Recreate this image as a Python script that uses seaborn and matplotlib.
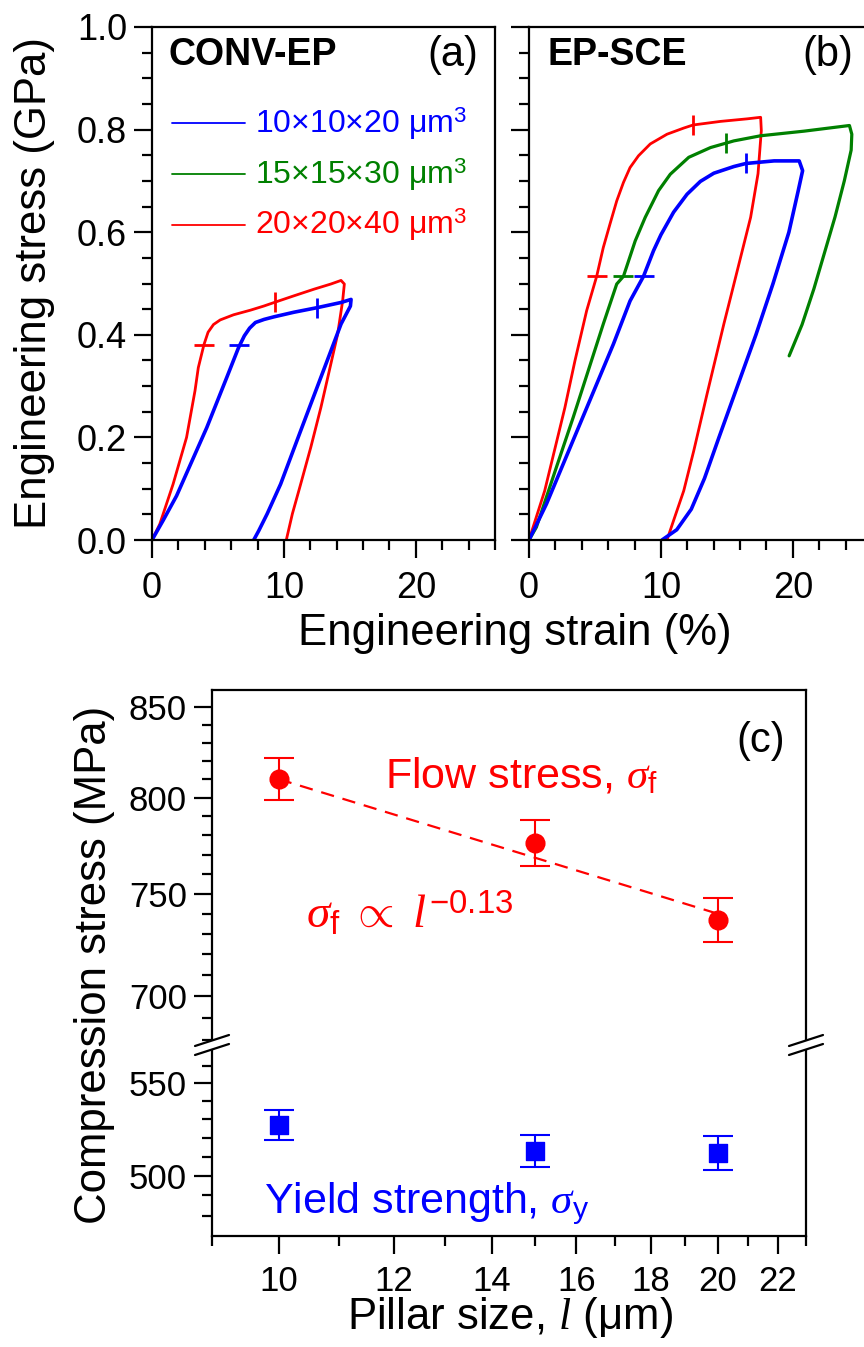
import numpy as np
import pandas as pd
import matplotlib
matplotlib.use("Agg")
import matplotlib.pyplot as plt
import seaborn as sns
from matplotlib.ticker import MultipleLocator, FixedLocator, NullFormatter, FixedFormatter, FormatStrFormatter
from matplotlib.lines import Line2D
from matplotlib.patches import Polygon

# ---------------- data ----------------
# Panel (a) CONV-EP
a_blue_strain = [0.00, 0.84, 1.86, 4.15, 5.67, 6.56, 7.00, 7.40, 7.84, 8.50, 9.24, 10.76, 12.54, 14.33, 15.09,
                 15.04, 14.33, 12.80, 11.27, 9.75, 8.73, 8.09, 7.71]
a_blue_stress = [0.000, 0.038, 0.086, 0.219, 0.317, 0.375, 0.398, 0.413, 0.424, 0.430, 0.435, 0.444, 0.453,
                 0.463, 0.469, 0.456, 0.421, 0.317, 0.213, 0.109, 0.051, 0.018, 0.000]
a_red_strain = [0.00, 0.59, 1.60, 2.62, 3.26, 3.51, 3.94, 4.25, 4.66, 5.17, 6.18, 7.46, 8.47, 9.49, 10.76,
                12.29, 13.56, 14.33, 14.58, 14.45, 14.07, 13.44, 12.80, 12.04, 11.27, 10.64, 10.18]
a_red_stress = [0.000, 0.031, 0.109, 0.200, 0.291, 0.336, 0.381, 0.405, 0.420, 0.429, 0.439, 0.448, 0.456,
                0.465, 0.476, 0.489, 0.499, 0.506, 0.499, 0.466, 0.401, 0.330, 0.258, 0.181, 0.109, 0.051,
                0.000]
a_low_strain = [3.97, 6.56]
a_low_stress = [0.381, 0.381]
a_low_colors = ["#ff0000", "#0000ff"]
a_up_strain = [9.36, 12.54]
a_up_stress = [0.463, 0.453]
a_up_colors = ["#ff0000", "#0000ff"]

# Panel (b) EP-SCE
b_red_strain = [0.00, 1.19, 2.72, 3.48, 4.37, 5.13, 5.63, 6.14, 6.65, 7.16, 7.66, 8.30, 9.19, 10.46, 11.73,
                12.44, 14.52, 16.55, 17.56, 17.61, 17.36, 16.80, 16.04, 15.28, 14.77, 13.50, 12.49, 11.73,
                10.96, 10.46]
b_red_stress = [0.000, 0.096, 0.258, 0.349, 0.447, 0.514, 0.570, 0.616, 0.661, 0.697, 0.726, 0.749, 0.772,
                0.791, 0.803, 0.809, 0.816, 0.821, 0.824, 0.798, 0.714, 0.629, 0.551, 0.473, 0.421, 0.285,
                0.174, 0.096, 0.038, 0.000]
b_green_strain = [0.00, 0.56, 2.08, 3.35, 4.49, 5.63, 6.65, 7.16, 8.05, 8.81, 9.82, 10.71, 12.11, 13.76,
                  15.53, 17.56, 20.86, 24.29, 24.47, 24.42, 23.90, 23.20, 22.40, 21.60, 20.70, 19.72]
b_green_stress = [0.000, 0.025, 0.142, 0.239, 0.330, 0.421, 0.499, 0.514, 0.583, 0.629, 0.681, 0.713, 0.746,
                  0.765, 0.778, 0.788, 0.797, 0.808, 0.791, 0.760, 0.700, 0.630, 0.560, 0.490, 0.420, 0.359]
b_blue_strain = [0.00, 1.32, 2.59, 3.86, 5.13, 6.40, 7.66, 8.68, 9.44, 10.00, 10.96, 11.98, 12.99, 14.01,
                 15.53, 16.45, 18.58, 20.48, 20.74, 20.40, 19.70, 18.50, 17.20, 15.80, 14.40, 13.30, 12.30,
                 11.20, 10.08]
b_blue_stress = [0.000, 0.070, 0.148, 0.226, 0.304, 0.382, 0.466, 0.514, 0.564, 0.595, 0.639, 0.674, 0.699,
                 0.715, 0.728, 0.734, 0.739, 0.739, 0.720, 0.680, 0.600, 0.500, 0.400, 0.300, 0.200, 0.120,
                 0.060, 0.020, 0.000]
b_low_strain = [5.13, 7.16, 8.73]
b_low_stress = [0.514, 0.514, 0.514]
b_low_colors = ["#ff0000", "#008000", "#0000ff"]
b_up_strain = [12.44, 14.90, 16.45]
b_up_stress = [0.809, 0.774, 0.734]
b_up_colors = ["#ff0000", "#008000", "#0000ff"]

legend_labels = ["10\u00d710\u00d720 \u03bcm$^3$", "15\u00d715\u00d730 \u03bcm$^3$", "20\u00d720\u00d740 \u03bcm$^3$"]
legend_colors = ["#0000ff", "#008000", "#ff0000"]

# Panel (c)
pillar_size = [10, 15, 20]
flow_stress = [810, 776, 737]
flow_err = [11.5, 12, 11]
yield_strength = [527, 513, 512]
yield_err = [8, 8.5, 9]
fit_x = [10, 20]
fit_y = [810, 740]

xticks_c = [10, 12, 14, 16, 18, 20, 22]
xminor_c = [9, 11, 13, 15, 17, 19, 21, 23]
yticks_up = [700, 750, 800, 850]
yminor_up = [680, 690, 710, 720, 730, 740, 760, 770, 780, 790, 810, 820, 830, 840]
yticks_lo = [500, 550]
yminor_lo = [480, 490, 510, 520, 530, 540, 560, 570]

# ---------------- style ----------------
sns.set_theme(style="ticks")
plt.rcParams["font.family"] = ["Liberation Sans", "DejaVu Sans"]
plt.rcParams["mathtext.fontset"] = "custom"
plt.rcParams["mathtext.rm"] = "Liberation Sans"
plt.rcParams["mathtext.it"] = "Liberation Serif:italic"
plt.rcParams["mathtext.bf"] = "Liberation Sans:bold"
plt.rcParams["axes.linewidth"] = 1.6
for k in ("text.color", "axes.labelcolor", "xtick.color", "ytick.color", "axes.edgecolor"):
    plt.rcParams[k] = "black"

W, H = 864, 1347
fig = plt.figure(figsize=(W / 100, H / 100), dpi=100)


def rect(l, t, r, b):
    return [l / W, 1 - b / H, (r - l) / W, (b - t) / H]


LAB = 31.5

axA = fig.add_axes(rect(152, 27, 495, 540))
axB = fig.add_axes(rect(529, 27, 872, 540))
axCu = fig.add_axes(rect(212, 690, 806, 1045))
axCl = fig.add_axes(rect(212, 1045, 806, 1236))

for ax, ls in ((axA, 26), (axB, 26), (axCu, 25), (axCl, 25)):
    ax.tick_params(which="major", length=13, width=1.6, direction="out", labelsize=ls, pad=5,
                   color="black", labelcolor="black")
    ax.tick_params(which="minor", length=7, width=1.6, direction="out", color="black")
    for s in ax.spines.values():
        s.set_color("black")
        s.set_linewidth(1.6)

# ---- panel (a) and (b)
def curve(ax, x, y, color, lw):
    df = pd.DataFrame({"strain": x, "stress": y})
    sns.lineplot(data=df, x="strain", y="stress", sort=False, estimator=None, color=color, lw=lw, ax=ax)


curve(axA, a_red_strain, a_red_stress, "#ff0000", 2.0)
curve(axA, a_blue_strain, a_blue_stress, "#0000ff", 2.6)
curve(axB, b_red_strain, b_red_stress, "#ff0000", 2.0)
curve(axB, b_green_strain, b_green_stress, "#008000", 2.3)
curve(axB, b_blue_strain, b_blue_stress, "#0000ff", 2.6)

for ax, lx, ly, lc, ux, uy, uc in ((axA, a_low_strain, a_low_stress, a_low_colors, a_up_strain, a_up_stress, a_up_colors),
                                    (axB, b_low_strain, b_low_stress, b_low_colors, b_up_strain, b_up_stress, b_up_colors)):
    for x, y, c in zip(lx, ly, lc):
        ax.plot([x], [y], marker="_", ms=15, mew=2.0, color=c, ls="none")
    for x, y, c in zip(ux, uy, uc):
        ax.plot([x], [y], marker="|", ms=15, mew=2.0, color=c, ls="none")

for ax in (axA, axB):
    ax.set_xlim(0, 26)
    ax.set_ylim(0, 1.0)
    ax.xaxis.set_major_locator(MultipleLocator(10))
    ax.xaxis.set_minor_locator(MultipleLocator(2))
    ax.yaxis.set_major_locator(MultipleLocator(0.2))
    ax.yaxis.set_minor_locator(MultipleLocator(0.05))
    ax.xaxis.set_major_formatter(FormatStrFormatter("%d"))
    ax.tick_params(axis="x", pad=9)
    ax.set_xlabel("")
    ax.set_ylabel("")
axA.yaxis.set_major_formatter(FormatStrFormatter("%.1f"))
axB.tick_params(labelleft=False)

axA.text(0.047, 0.945, "CONV-EP", transform=axA.transAxes, fontsize=27, fontweight="bold", va="center", ha="left")
axA.text(0.95, 0.945, "(a)", transform=axA.transAxes, fontsize=30, va="center", ha="right")
axB.text(0.055, 0.945, "EP-SCE", transform=axB.transAxes, fontsize=27, fontweight="bold", va="center", ha="left")
axB.text(0.945, 0.945, "(b)", transform=axB.transAxes, fontsize=30, va="center", ha="right")

for i, (lab, col) in enumerate(zip(legend_labels, legend_colors)):
    yy = [0.812, 0.713, 0.614][i]
    axA.plot([0.057, 0.271], [yy, yy], transform=axA.transAxes, color=col, lw=1.3)
    axA.text(0.300, yy, lab, transform=axA.transAxes, color=col, fontsize=23, va="center", ha="left")

fig.text(35 / W, 1 - 283 / H, "Engineering stress (GPa)", rotation=90, fontsize=LAB, ha="center", va="center")
fig.text(515 / W, 1 - 634 / H, "Engineering strain (%)", fontsize=LAB, ha="center", va="center")

# ---- panel (c)
for ax in (axCu, axCl):
    ax.set_xscale("log")
    ax.set_yscale("log")
    ax.set_xlim(9, 23)
    ax.xaxis.set_major_locator(FixedLocator(xticks_c))
    ax.xaxis.set_major_formatter(FixedFormatter([str(v) for v in xticks_c]))
    ax.xaxis.set_minor_locator(FixedLocator(xminor_c))
    ax.xaxis.set_minor_formatter(NullFormatter())

axCu.set_ylim(677.5, 860)
axCu.yaxis.set_major_locator(FixedLocator(yticks_up))
axCu.yaxis.set_major_formatter(FixedFormatter([str(v) for v in yticks_up]))
axCu.yaxis.set_minor_locator(FixedLocator(yminor_up))
axCu.yaxis.set_minor_formatter(NullFormatter())
axCu.spines["bottom"].set_visible(False)
axCu.tick_params(which="both", bottom=False, labelbottom=False)

axCl.set_ylim(470, 572)
axCl.yaxis.set_major_locator(FixedLocator(yticks_lo))
axCl.yaxis.set_major_formatter(FixedFormatter([str(v) for v in yticks_lo]))
axCl.yaxis.set_minor_locator(FixedLocator(yminor_lo))
axCl.yaxis.set_minor_formatter(NullFormatter())
axCl.spines["top"].set_visible(False)
axCl.tick_params(axis="x", pad=8)

# fit line
sns.lineplot(x=fit_x, y=fit_y, color="#ff0000", lw=1.6, ax=axCu, estimator=None, sort=False)
axCu.lines[-1].set_dashes([6, 4])

axCu.errorbar(pillar_size, flow_stress, yerr=flow_err, fmt="none", ecolor="#ff0000", elinewidth=1.5,
              capsize=11, capthick=1.5, zorder=3)
sns.scatterplot(x=pillar_size, y=flow_stress, marker="o", s=180, color="#ff0000", edgecolor="#ff0000",
                ax=axCu, zorder=4)
axCl.errorbar(pillar_size, yield_strength, yerr=yield_err, fmt="none", ecolor="#0000ff", elinewidth=1.5,
              capsize=11, capthick=1.5, zorder=3)
sns.scatterplot(x=pillar_size, y=yield_strength, marker="s", s=150, color="#0000ff", edgecolor="#0000ff",
                ax=axCl, zorder=4)
for ax in (axCu, axCl):
    ax.set_xlabel("")
    ax.set_ylabel("")

axCu.text(0.292, 0.724, r"Flow stress, $\sigma_\mathrm{f}$", transform=axCu.transAxes, color="#ff0000",
          fontsize=31, va="baseline", ha="left")
axCu.text(0.158, 0.33, r"$\sigma_\mathrm{f}\ \propto\ l^{-0.13}$", transform=axCu.transAxes, color="#ff0000",
          fontsize=34, va="baseline", ha="left")
axCu.text(0.965, 0.856, "(c)", transform=axCu.transAxes, fontsize=30, va="center", ha="right")
axCl.text(0.087, 0.12, r"Yield strength, $\sigma_\mathrm{y}$", transform=axCl.transAxes, color="#0000ff",
          fontsize=31, va="baseline", ha="left")

fig.text(95 / W, 1 - 965 / H, "Compression stress (MPa)", rotation=90, fontsize=LAB, ha="center", va="center")
fig.text(510 / W, 1 - 1318 / H, "Pillar size, $l$ (\u03bcm)", fontsize=LAB, ha="center", va="center")

# axis break marks
def brk(xc, yc):
    p1 = [(xc - 17, yc + 1), (xc + 17, yc - 10)]
    p2 = [(xc - 17, yc + 10), (xc + 17, yc - 1)]
    tf = lambda pts: [(x / W, 1 - y / H) for x, y in pts]
    poly = Polygon(tf([p1[0], p1[1], p2[1], p2[0]]), closed=True, facecolor="white", edgecolor="none",
                   transform=fig.transFigure, zorder=5)
    fig.add_artist(poly)
    for p in (p1, p2):
        q = tf(p)
        fig.add_artist(Line2D([q[0][0], q[1][0]], [q[0][1], q[1][1]], color="black", lw=1.6,
                              transform=fig.transFigure, zorder=6))


brk(212, 1045)
brk(806, 1045)

fig.savefig("out.png", dpi=100)
